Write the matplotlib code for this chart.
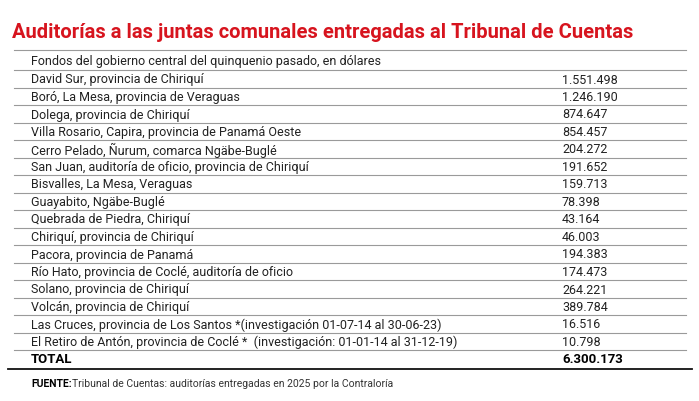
import matplotlib
matplotlib.use("Agg")
import matplotlib.pyplot as plt
from matplotlib import font_manager as fm

names = {f.name for f in fm.fontManager.ttflist}
FONT = "Liberation Sans Narrow" if "Liberation Sans Narrow" in names else "Roboto"

title = "Auditorías a las juntas comunales entregadas al Tribunal de Cuentas"
subtitle = "Fondos del gobierno central del quinquenio pasado, en dólares"
places = [
    "David Sur, provincia de Chiriquí",
    "Boró, La Mesa, provincia de Veraguas",
    "Dolega, provincia de Chiriquí",
    "Villa Rosario, Capira, provincia de Panamá Oeste",
    "Cerro Pelado, Ñurum, comarca Ngäbe-Buglé",
    "San Juan, auditoría de oficio, provincia de Chiriquí",
    "Bisvalles, La Mesa, Veraguas",
    "Guayabito, Ngäbe-Buglé",
    "Quebrada de Piedra, Chiriquí",
    "Chiriquí, provincia de Chiriquí",
    "Pacora, provincia de Panamá",
    "Río Hato, provincia de Coclé, auditoría de oficio",
    "Solano, provincia de Chiriquí",
    "Volcán, provincia de Chiriquí",
    "Las Cruces, provincia de Los Santos *(investigación 01-07-14 al 30-06-23)",
    "El Retiro de Antón, provincia de Coclé *  (investigación: 01-01-14 al 31-12-19)",
]
amounts = [1551498, 1246190, 874647, 854457, 204272, 191652, 159713, 78398,
           43164, 46003, 194383, 174473, 264221, 389784, 16516, 10798]
total_label = "TOTAL"
total_value = 6300173
source_bold = "FUENTE:"
source_text = "Tribunal de Cuentas: auditorías entregadas en 2025 por la Contraloría"

def fmt(v):
    return f"{v:,}".replace(",", ".")

W, H = 699, 402
fig = plt.figure(figsize=(W/100, H/100), dpi=100)
fig.patch.set_facecolor("white")
Y = lambda py: 1 - py / H
X = lambda px: px / W
def hline(py, lw=0.8, color="#9a9a9a", x0=14, x1=686):
    fig.add_artist(plt.Line2D([X(x0), X(x1)], [Y(py), Y(py)], lw=lw, color=color))

fig.text(X(12), Y(33), title, color="#d7141e", fontsize=14.5, fontweight="bold",
         family=FONT, va="center", ha="left")
hline(51)
fig.text(X(31), Y(62), subtitle, fontsize=9, family=FONT, va="center", color="#222222")
hline(71)
step = 17.5
for i, (p, a) in enumerate(zip(places, amounts)):
    yc = 80 + i * step
    fig.text(X(31), Y(yc), p, fontsize=9, family=FONT, va="center", color="#222222")
    fig.text(X(562), Y(yc), fmt(a), fontsize=9, family=FONT, va="center", color="#222222")
    hline(71 + (i + 1) * step)
yt = 80 + len(places) * step
fig.text(X(31), Y(yt), total_label, fontsize=9.5, family=FONT, fontweight="bold", va="center")
fig.text(X(562), Y(yt), fmt(total_value), fontsize=9.5, family=FONT, fontweight="bold", va="center")
hline(370, lw=1.3, color="#111111", x0=8, x1=692)
t = fig.text(X(31), Y(384), source_bold, fontsize=7.5, family=FONT, fontweight="bold", va="center")
fig.canvas.draw()
bb = t.get_window_extent()
fig.text(bb.x1 / W, Y(384), source_text, fontsize=7.5, family=FONT, va="center", color="#333333")
fig.savefig("out.png", dpi=100)
